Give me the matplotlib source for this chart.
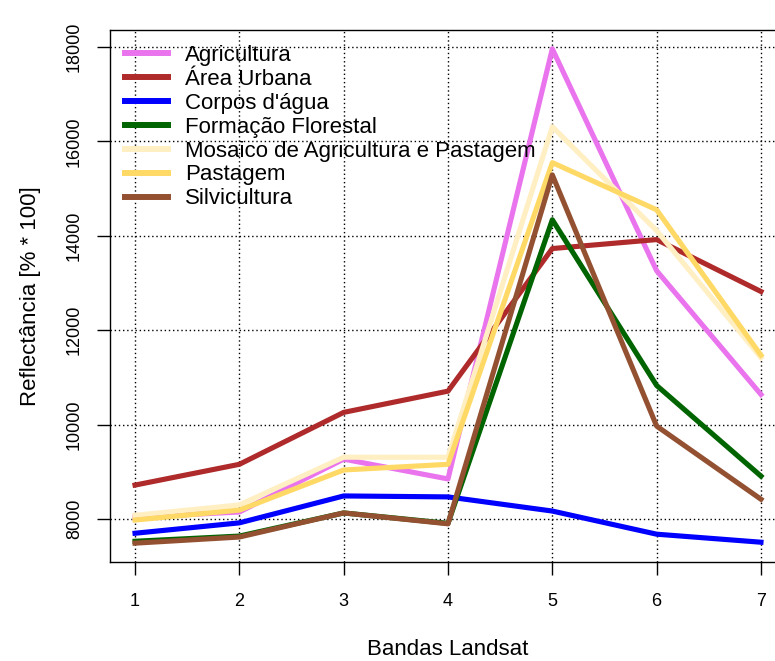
import matplotlib.pyplot as plt

plt.rcParams["font.family"] = ["Liberation Sans", "DejaVu Sans"]

bands = [1, 2, 3, 4, 5, 6, 7]

agricultura = [8040, 8150, 9270, 8850, 17960, 13260, 10640]
area_urbana = [8720, 9160, 10260, 10710, 13730, 13920, 12820]
corpos_agua = [7700, 7920, 8490, 8470, 8170, 7680, 7510]
formacao_florestal = [7530, 7640, 8130, 7910, 14340, 10830, 8910]
mosaico = [8080, 8300, 9310, 9310, 16310, 14110, 11420]
pastagem = [7980, 8190, 9040, 9160, 15550, 14550, 11470]
silvicultura = [7490, 7620, 8130, 7900, 15290, 9970, 8420]

classes = [
    ("Agricultura", agricultura, "#E974ED"),
    ("Área Urbana", area_urbana, "#AF2A2A"),
    ("Corpos d'água", corpos_agua, "#0000FF"),
    ("Formação Florestal", formacao_florestal, "#006400"),
    ("Mosaico de Agricultura e Pastagem", mosaico, "#FFEFC3"),
    ("Pastagem", pastagem, "#FFD966"),
    ("Silvicultura", silvicultura, "#935132"),
]

fig = plt.figure(figsize=(7.75, 6.61), dpi=100)
ax = fig.add_axes([110 / 775, 1 - 562 / 661, 676 / 775, 532 / 661])

for name, values, color in classes:
    ax.plot(bands, values, color=color, lw=3.7, label=name)

ax.set_xlim(0.76, 7.24)
ax.set_ylim(7091, 18359)
ax.set_xticks(bands)
ax.set_yticks(range(8000, 18001, 2000))
ax.tick_params(axis="both", direction="out", length=9.5, width=1, labelsize=13, colors="black")
ax.tick_params(axis="x", pad=13)
ax.tick_params(axis="y", pad=10)
for lbl in ax.get_yticklabels():
    lbl.set_rotation(90)
    lbl.set_va("center")
ax.grid(True, color="black", linestyle=(0, (1, 2)), linewidth=1)
ax.set_axisbelow(True)
for side in ["left", "bottom", "top", "right"]:
    ax.spines[side].set_linewidth(1)
    ax.spines[side].set_color("black")

ax.set_xlabel("Bandas Landsat", fontsize=16, labelpad=21)
ax.set_ylabel("Reflectância [% * 100]", fontsize=16, labelpad=18)

leg = ax.legend(
    loc="upper left",
    bbox_to_anchor=(15 / 676, (562 - 45) / 532),
    frameon=False,
    fontsize=16,
    handlelength=1.94,
    handletextpad=0.77,
    labelspacing=0.13,
    borderpad=0,
    borderaxespad=0,
)
for line in leg.get_lines():
    line.set_linewidth(4.3)

fig.savefig("out.png", dpi=100)
